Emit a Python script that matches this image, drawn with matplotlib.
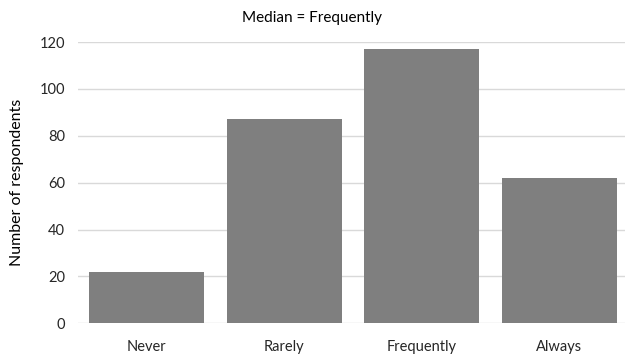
import matplotlib
matplotlib.use("Agg")
import matplotlib.pyplot as plt

plt.rcParams['font.family'] = ['Lato', 'DejaVu Sans']

categories = ['Never', 'Rarely', 'Frequently', 'Always']
counts = [22, 87, 117, 62]
yticks = [0, 20, 40, 60, 80, 100, 120]

fig = plt.figure(figsize=(6.25, 3.54), dpi=100)
ax = fig.add_axes([77.7 / 625, 1 - 323.3 / 354, 550.6 / 625, (323.3 - 42) / 354])

ax.bar(range(len(categories)), counts, width=0.836, color='#7f7f7f', zorder=2)

ax.set_xlim(-0.5, len(categories) - 0.5)
ax.set_ylim(0, 120)
ax.set_yticks(yticks)
ax.set_xticks(range(len(categories)))
ax.set_xticklabels(categories)
ax.grid(axis='y', color='#d9d9d9', linewidth=1, zorder=0)
ax.tick_params(length=0, labelsize=10.5, labelcolor='#262626')
ax.tick_params(axis='x', pad=12)
ax.tick_params(axis='y', pad=9)
for s in ax.spines.values():
    s.set_visible(False)

ax.set_ylabel('Number of respondents', fontsize=11.5, color='#000000', labelpad=11)
fig.text(0.5, 1 - 18 / 354, 'Median = Frequently', ha='center', va='center', fontsize=11, color='#000000')

fig.savefig('out.png', dpi=100)
